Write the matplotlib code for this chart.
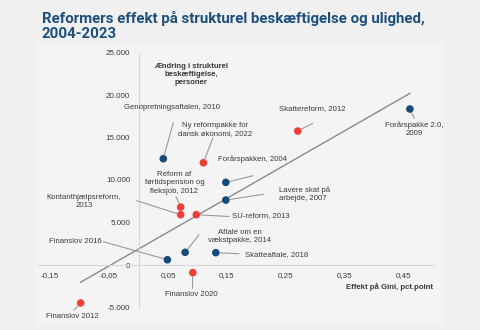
import numpy as np
import matplotlib

matplotlib.use("Agg")
import matplotlib.pyplot as plt
from matplotlib.patches import Rectangle

# Data: effect on Gini (pct. point) and structural employment
names = [
    "Genopretningsaftalen, 2010",
    "Ny reformpakke for\ndansk økonomi, 2022",
    "Forårspakken, 2004",
    "Lavere skat på\narbejde, 2007",
    "Reform af\nførtidspension og\nfleksjob, 2012",
    "Kontanthjælpsreform,\n2013",
    "SU-reform, 2013",
    "Aftale om en\nvækstpakke, 2014",
    "Skatteaftale, 2018",
    "Finanslov 2016",
    "Finanslov 2020",
    "Finanslov 2012",
    "Skattereform, 2012",
    "Forårspakke 2.0,\n2009",
]
gini = [0.042, 0.110, 0.148, 0.148, 0.0715, 0.0715, 0.098, 0.079, 0.131, 0.049, 0.092, -0.098, 0.270, 0.460]
employment = [12500, 12030, 9720, 7640, 6820, 5920, 5920, 1490, 1450, 620, -900, -4470, 15760, 18350]
is_red = [False, True, False, False, True, True, True, False, False, False, True, True, True, False]

x_ticks = [-0.15, -0.05, 0.05, 0.15, 0.25, 0.35, 0.45]
y_ticks = [-5000, 0, 5000, 10000, 15000, 20000, 25000]

BLUE = "#164a7c"
RED = "#ef3e36"
GREY_LINE = "#9a9a9a"
TXT = "#3a3a3a"

# label placement: (text x, text y, ha, leader start x, leader start y)
label_pos = [
    (0.0563, 18510, "center", 0.059, 16740),
    (0.1297, 15965, "center", 0.126, 14940),
    (0.1347, 12435, "left", 0.1946, 10506),
    (0.2386, 8330, "left", 0.2115, 8318),
    (0.0607, 9670, "center", 0.0636, 8035),
    (-0.0924, 7447, "center", -0.003, 7565),
    (0.1585, 5765, "left", 0.1534, 5706),
    (0.172, 3376, "center", 0.1025, 3530),
    (0.1805, 1176, "left", 0.1703, 1330),
    (-0.0624, 2741, "right", -0.0597, 2741),
    (0.089, -3412, "center", 0.0915, -2741),
    (-0.1122, -6000, "center", -0.1093, -5294),
    (0.294, 18436, "center", 0.2953, 16670),
    (0.4675, 15965, "center", 0.4675, 17260),
]

plt.rcParams["font.family"] = ["Liberation Sans", "DejaVu Sans"]

fig = plt.figure(figsize=(4.8, 3.3), dpi=100, facecolor="#f0f0f0")

# lighter inner panel behind the chart
fig.patches.append(Rectangle((35 / 480, 1 - 325 / 330), 408 / 480, 283 / 330,
                             transform=fig.transFigure, facecolor="#f4f4f4",
                             edgecolor="none", zorder=-5))

fig.text(42 / 480, 1 - 11 / 330,
         "Reformers effekt på strukturel beskæftigelse og ulighed,\n2004-2023",
         ha="left", va="top", fontsize=10.8, fontweight="bold", color="#1d4f7c",
         family=["Roboto", "DejaVu Sans"], linespacing=1.1)

ax = fig.add_axes([38.2 / 480, 1 - 307.5 / 330, 395.3 / 480, 255 / 330])
ax.set_zorder(1)
ax.set_facecolor("none")
ax.set_xlim(-0.17, 0.50)
ax.set_ylim(-5000, 25000)

for s in ["top", "right"]:
    ax.spines[s].set_visible(False)
ax.spines["left"].set_position(("data", 0))
ax.spines["bottom"].set_position(("data", 0))
for s in ["left", "bottom"]:
    ax.spines[s].set_color("#d6d6d6")
    ax.spines[s].set_linewidth(0.8)

ax.set_xticks(x_ticks)
ax.set_xticklabels([f"{t:.2f}".replace(".", ",") for t in x_ticks])
ax.set_yticks(y_ticks)
ax.set_yticklabels([f"{t:,}".replace(",", ".") for t in y_ticks])
ax.tick_params(axis="both", length=0, labelsize=5.8, colors=TXT)
ax.tick_params(axis="y", pad=6)
ax.tick_params(axis="x", pad=5)

# linear trend line across the data range
coef = np.polyfit(gini, employment, 1)
xs = np.array([min(gini), max(gini)])
ax.plot(xs, np.polyval(coef, xs), color="#8a8a8a", lw=1.0, zorder=2)

colors = [RED if r else BLUE for r in is_red]
ax.scatter(gini, employment, s=30, c=colors, zorder=4, linewidths=0, clip_on=False)

for name, gx, ey, (tx, ty, ha, lx, ly) in zip(names, gini, employment, label_pos):
    ax.text(tx, ty, name, ha=ha, va="center", fontsize=5.6, color=TXT,
            linespacing=1.25, clip_on=False)
    ax.annotate("", xy=(gx, ey), xytext=(lx, ly),
                arrowprops=dict(arrowstyle="-", color=GREY_LINE, lw=0.8,
                                shrinkA=0, shrinkB=3), annotation_clip=False)

ax.text(0.089, 22410, "Ændring i strukturel\nbeskæftigelse,\npersoner",
        ha="center", va="center", fontsize=5.6, fontweight="bold", color=TXT,
        linespacing=1.25)
ax.text(0.499, -2553, "Effekt på Gini, pct.point", ha="right", va="center",
        fontsize=5.6, fontweight="bold", color=TXT)

fig.savefig("out.png", dpi=100, facecolor=fig.get_facecolor())
